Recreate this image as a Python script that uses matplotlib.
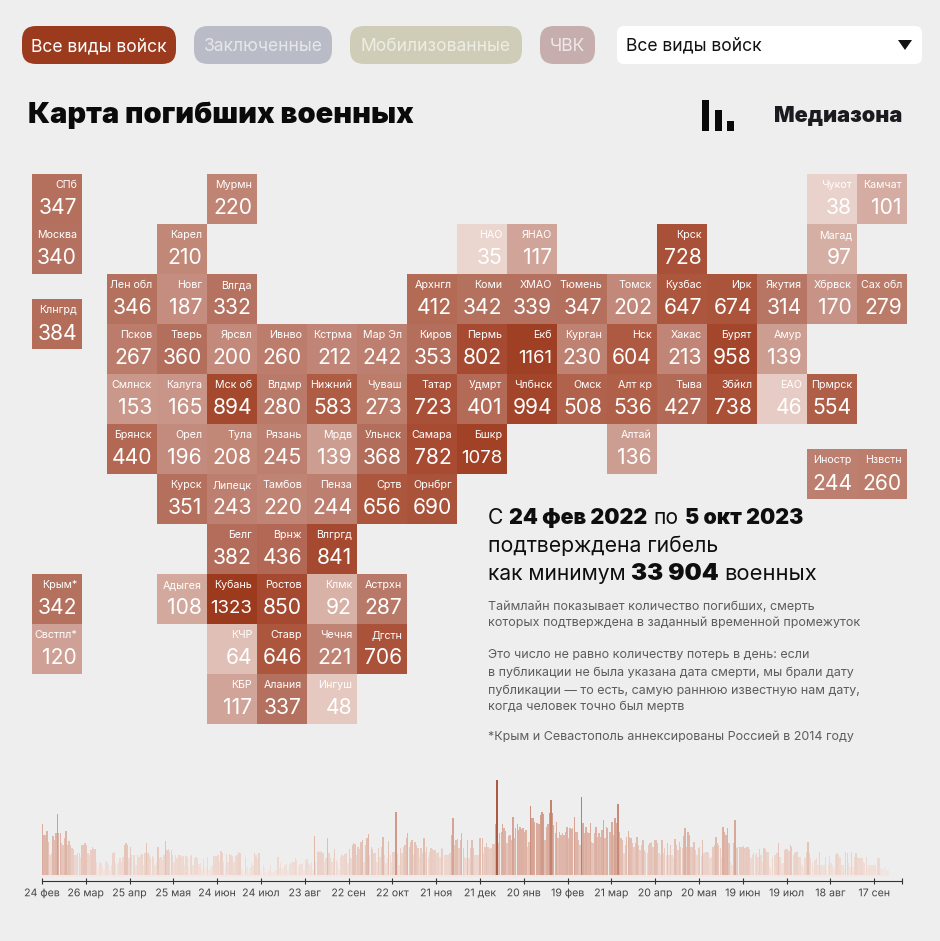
import matplotlib
matplotlib.use("Agg")
import matplotlib.pyplot as plt
import matplotlib.patheffects as pe
from matplotlib.patches import FancyBboxPatch, Rectangle, Polygon
from matplotlib.colors import LinearSegmentedColormap, Normalize

FONT = "Inter"
BG = "#eeeeee"

# ---------- tile map data ----------
region_names = ["СПб","Мурмн","Чукот","Камчат",
    "Москва","Карел","НАО","ЯНАО","Крск","Магад",
    "Лен обл","Новг","Влгда","Архнгл","Коми","ХМАО","Тюмень","Томск","Кузбас","Ирк","Якутия","Хбрвск","Сах обл","Клнгрд",
    "Псков","Тверь","Ярсвл","Ивнво","Кстрма","Мар Эл","Киров","Пермь","Екб","Курган","Нск","Хакас","Бурят","Амур",
    "Смлнск","Калуга","Мск об","Влдмр","Нижний","Чуваш","Татар","Удмрт","Члбнск","Омск","Алт кр","Тыва","Збйкл","ЕАО","Прмрск",
    "Брянск","Орел","Тула","Рязань","Мрдв","Ульнск","Самара","Бшкр","Алтай","Иностр","Нзвстн",
    "Курск","Липецк","Тамбов","Пенза","Сртв","Орнбрг",
    "Белг","Врнж","Влгргд",
    "Крым*","Адыгея","Кубань","Ростов","Клмк","Астрхн",
    "Свстпл*","КЧР","Ставр","Чечня","Дгстн",
    "КБР","Алания","Ингуш"]
region_values = [347,220,38,101,
    340,210,35,117,728,97,
    346,187,332,412,342,339,347,202,647,674,314,170,279,384,
    267,360,200,260,212,242,353,802,1161,230,604,213,958,139,
    153,165,894,280,583,273,723,401,994,508,536,427,738,46,554,
    440,196,208,245,139,368,782,1078,136,244,260,
    351,243,220,244,656,690,
    382,436,841,
    342,108,1323,850,92,287,
    120,64,646,221,706,
    117,337,48]
region_cols = [-1.5,2,14,15,
    -1.5,1,7,8,11,14,
    0,1,2,6,7,8,9,10,11,12,13,14,15,-1.5,
    0,1,2,3,4,5,6,7,8,9,10,11,12,13,
    0,1,2,3,4,5,6,7,8,9,10,11,12,13,14,
    0,1,2,3,4,5,6,7,10,14,15,
    1,2,3,4,5,6,
    2,3,4,
    -1.5,1,2,3,4,5,
    -1.5,2,3,4,5,
    2,3,4]
region_rows = [0]*4 + [1]*6 + [2]*13 + [2.5] + [3]*14 + [4]*15 + [5]*8 + [5] + [5.5]*2 + [6]*6 + [7]*3 + [8]*6 + [9]*5 + [10]*3

# ---------- timeline data (relative daily counts) ----------
daily_counts = [
51,40,40,44,33,20,22,39,35,42,61,42,42,32,30,37,44,30,34,30,27,26,20,20,22,22,18,30,30,32,
30,22,20,25,28,26,26,13,7,13,12,8,5,14,13,10,5,10,22,23,12,11,13,17,13,18,30,32,30,17,
28,20,20,20,10,20,18,20,21,10,22,32,22,20,17,19,18,10,13,28,17,18,15,20,34,25,26,23,25,20,
13,20,17,20,20,18,19,10,19,18,8,19,20,10,17,18,17,11,12,5,16,7,8,18,5,7,9,19,19,19,
20,14,24,22,13,8,21,13,21,20,19,13,19,20,23,22,7,5,3,18,8,3,7,12,10,22,20,17,22,5,
3,10,7,3,3,5,10,3,3,5,5,18,7,12,7,5,10,11,5,11,12,14,13,17,15,8,11,11,11,5,
15,16,12,10,13,5,39,13,23,24,23,24,22,13,17,37,22,17,13,17,26,15,13,5,18,20,19,21,22,12,
26,17,30,32,31,20,28,26,33,35,13,30,37,41,20,28,26,22,22,13,27,18,28,38,20,12,17,34,20,13,
23,23,63,22,10,27,22,28,30,37,42,28,33,35,20,33,30,27,18,27,22,37,23,28,18,23,27,26,25,25,
22,23,18,27,26,20,20,20,20,22,40,57,30,35,36,27,35,42,27,18,17,35,17,27,35,27,20,20,20,37,
37,37,22,28,32,28,26,27,31,31,51,95,32,42,43,51,47,44,32,39,40,35,58,37,47,51,45,48,46,47,
43,45,28,33,69,57,57,53,52,52,51,60,63,61,35,48,51,62,75,62,50,42,53,37,43,40,42,40,43,48,
37,47,46,47,58,43,43,35,30,78,52,42,48,43,42,52,33,32,42,48,38,42,38,45,55,37,48,47,43,43,
53,40,57,52,71,43,37,35,22,30,38,44,38,37,32,28,32,38,30,25,30,35,25,23,22,30,32,33,28,35,
35,32,22,20,35,22,27,20,32,20,30,20,18,36,30,25,33,28,27,39,47,28,43,40,28,28,33,25,20,27,
28,19,35,22,23,23,22,17,18,28,30,38,32,30,27,18,48,43,40,47,32,13,10,32,55,27,28,28,28,28,
29,27,28,28,26,17,20,22,20,22,18,26,20,13,27,26,23,23,8,5,18,20,20,22,32,18,10,12,25,26,
26,24,30,28,20,22,23,23,18,18,10,7,17,23,33,22,17,12,7,15,17,10,23,10,10,10,18,5,10,19,
12,10,7,20,22,20,18,10,10,7,23,22,12,8,23,8,18,22,18,17,17,17,13,12,18,7,10,10,10,10,
10,5,17,17,7,5,7,8,5,5]
tick_days = list(range(0, 600, 30))
tick_labels = ["24 фев","26 мар","25 апр","25 мая","24 июн","24 июл","23 авг","22 сен","22 окт","21 ноя",
               "21 дек","20 янв","19 фев","21 мар","20 апр","20 мая","19 июн","19 июл","18 авг","17 сен"]
last_day = 589

button_labels = ["Все виды войск","Заключенные","Мобилизованные","ЧВК"]
button_colors = ["#9c3a1e","#b9bcc6","#cfcdb8","#c7aeae"]
button_text = ["#ffffff","#e6e7ec","#eeede3","#f0e8e8"]

fig = plt.figure(figsize=(9.40, 9.41), dpi=100, facecolor=BG)

# ---------- chrome layer in pixel coordinates ----------
ax = fig.add_axes([0, 0, 1, 1]); ax.set_xlim(0, 940); ax.set_ylim(941, 0); ax.axis("off")

def pill(x0, x1, y0, y1, color, r=14):
    ax.add_patch(FancyBboxPatch((x0 + r, y0 + r), x1 - x0 - 2*r, y1 - y0 - 2*r,
                                boxstyle=f"round,pad={r},rounding_size={r}", fc=color, ec="none", mutation_aspect=1))

spans = [(22,176),(194,332),(350,522),(540,595)]
for (x0, x1), col, lab, tc in zip(spans, button_colors, button_labels, button_text):
    pill(x0, x1, 26, 64, col)
    ax.text((x0+x1)/2, 46.5, lab, color=tc, fontsize=12.6, ha="center", va="center", family=FONT)
pill(617, 922, 26, 64, "#ffffff", r=7)
ax.text(626, 46, "Все виды войск", color="#111111", fontsize=12.6, va="center", family=FONT)
ax.add_patch(Polygon([(898, 40), (912, 40), (905, 50)], fc="#111111", ec="none"))

ax.text(28, 115.5, "Карта погибших военных", fontsize=20.85, fontweight="black", va="center", color="#0a0a0a", family=FONT)
for bx0, bx1, by in [(702, 709, 100), (715, 722, 110), (727, 734, 121)]:
    ax.add_patch(Rectangle((bx0, by), bx1-bx0, 131-by, fc="#0a0a0a", ec="none"))
ax.text(902, 115.5, "Медиазона", fontsize=15.6, fontweight="black", va="center", ha="right", color="#1a1a1f", family=FONT)

fig.canvas.draw()
rend = fig.canvas.get_renderer()
def seq(x, y, parts, gap):
    for s, w, size in parts:
        t = ax.text(x, y, s, fontsize=size, fontweight=w, va="center", color="#0e0e0e", family=FONT)
        x = t.get_window_extent(rend).x1 + gap

seq(488, 517.5, [("С","normal",15.2),("24 фев 2022","black",15.4),("по","normal",15.2),("5 окт 2023","black",15.4)], 6)
seq(488, 545.5, [("подтверждена гибель","normal",15.3)], 6)
seq(488, 573.5, [("как минимум","normal",15.1),("33 904","black",17.4),("военных","normal",15.8)], 5.5)

notes = [(606.5,"Таймлайн показывает количество погибших, смерть"),
         (623.5,"которых подтверждена в заданный временной промежуток"),
         (655.5,"Это число не равно количеству потерь в день: если"),
         (672.5,"в публикации не была указана дата смерти, мы брали дату"),
         (690.5,"публикации — то есть, самую раннюю известную нам дату,"),
         (707.5,"когда человек точно был мертв"),
         (737.5,"*Крым и Севастополь аннексированы Россией в 2014 году")]
for y, s in notes:
    ax.text(488, y, s, fontsize=9.0, va="center", color="#5d5d5d", family=FONT)

# ---------- tile map ----------
tile_anchor = [(0,"#f0e4e0"),(35,"#e9d3cd"),(46,"#e5c8bf"),(117,"#cfa297"),(220,"#bf8373"),
               (347,"#b4705d"),(600,"#ae5a42"),(800,"#a64b32"),(1323,"#9c3a1e")]
tile_cmap = LinearSegmentedColormap.from_list("tiles", [(v/1323, c) for v, c in tile_anchor])
tile_norm = Normalize(0, 1323)
tm = fig.add_axes([0, 0, 1, 1]); tm.patch.set_alpha(0)
tm.set_xlim(-107/50, (940-107)/50); tm.set_ylim((941-174)/50, -174/50); tm.axis("off")
tm.bar(region_cols, [1]*len(region_cols), width=1, bottom=region_rows, align="edge",
       color=[tile_cmap(tile_norm(v)) for v in region_values], linewidth=0)
for n, v, c, r in zip(region_names, region_values, region_cols, region_rows):
    tm.text(c+0.9, r+0.22, n, color="#ffffff", fontsize=7.7, ha="right", va="center", family=FONT)
    tm.text(c+0.9, r+0.69, str(v), color="#ffffff", fontsize=13.4 if v >= 1000 else 15.2,
            ha="right", va="center", family=FONT)

# ---------- timeline ----------
tl = fig.add_axes([42/940, 1-875/941, 860/940, 100/941]); tl.patch.set_alpha(0)
bar_anchor = [(0,"#f4ebe8"),(10,"#f0dfd9"),(20,"#edd6ce"),(30,"#e6c6bb"),(40,"#dfb7aa"),
              (55,"#d8a899"),(70,"#c98c7a"),(95,"#ab5a45")]
bar_cmap = LinearSegmentedColormap.from_list("bars", [(v/95, c) for v, c in bar_anchor])
bar_norm = Normalize(0, 95)
days = list(range(len(daily_counts)))
tl.bar([d+0.5 for d in days], [1.5]*len(days), bottom=-1.5, width=1.0, color="#f2e8e5", linewidth=0, clip_on=False)
tl.bar([d+0.5 for d in days], daily_counts, width=0.95,
       color=[bar_cmap(bar_norm(v)) for v in daily_counts], linewidth=0)
tl.set_xlim(0, last_day); tl.set_ylim(0, 100)
for s in ("top", "left", "right"):
    tl.spines[s].set_visible(False)
tl.spines["bottom"].set_position(("outward", 4.3))
tl.spines["bottom"].set_color("#333333"); tl.spines["bottom"].set_linewidth(0.8)
tl.set_yticks([])
tl.set_xticks(tick_days + [last_day], tick_labels + [""], fontsize=7.6, family=FONT, color="#444444")
tl.tick_params(axis="x", direction="inout", length=5, width=0.8, color="#333333", pad=8.5)
for lab in tl.get_xticklabels():
    lab.set_verticalalignment("baseline")
    lab.set_path_effects([pe.Normal()])

fig.savefig("out.png", dpi=100, facecolor=BG)
